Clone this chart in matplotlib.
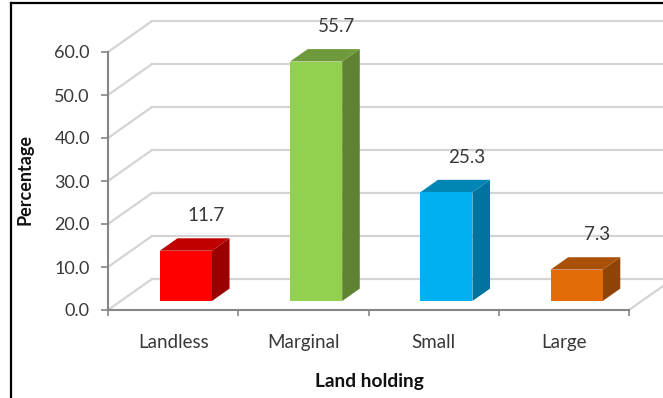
import matplotlib
matplotlib.use("Agg")
import matplotlib.pyplot as plt
from matplotlib.lines import Line2D
from matplotlib.patches import Polygon

plt.rcParams["font.family"] = ["Lato", "DejaVu Sans"]

categories = ["Landless", "Marginal", "Small", "Large"]
values = [11.7, 55.7, 25.3, 7.3]
y_ticks = [0, 10, 20, 30, 40, 50, 60]

front_colors = ["#FF0000", "#92D050", "#00B0F0", "#E36C09"]
top_colors = ["#C00000", "#6F9A3C", "#0085B5", "#AA5107"]
side_colors = ["#9B0000", "#5F8233", "#00739E", "#8F4406"]

W, H = 663, 398
GRID = "#D4D4D4"
AXIS = "#868686"
TEXT = "#383838"

# one unit of depth, in data units
DEPTH_X = 44 / 130.25
DEPTH_Y = 31 / 4.3
BAR_W = 0.4
BAR_FRONT = 0.29
BAR_BACK = 0.69


def pt(x, v, d):
    return (x + d * DEPTH_X, v + d * DEPTH_Y)


fig = plt.figure(figsize=(W / 100, H / 100), dpi=100, facecolor="white")
ax = fig.add_axes([108 / W, 1 - 310 / H, 521 / W, 258 / H])
ax.set_xlim(0, 4)
ax.set_ylim(0, 60)
ax.patch.set_visible(False)

# walls and floor
for v in y_ticks:
    x0, y0 = pt(0, v, 1)
    x1, y1 = pt(4, v, 1)
    ax.plot([0, x0], [v, y0], color=GRID, lw=1.6, clip_on=False, zorder=1)
    ax.plot([x0, x1], [y0, y1], color=GRID, lw=1.6, clip_on=False, zorder=1)
x1, y1 = pt(4, 0, 1)
ax.plot([4, x1], [0, y1], color=GRID, lw=1.6, clip_on=False, zorder=1)

# bars
for i, v in enumerate(values):
    left = i + 0.5 - BAR_W / 2
    right = i + 0.5 + BAR_W / 2
    front = [pt(left, 0, BAR_FRONT), pt(right, 0, BAR_FRONT),
             pt(right, v, BAR_FRONT), pt(left, v, BAR_FRONT)]
    top = [pt(left, v, BAR_FRONT), pt(right, v, BAR_FRONT),
           pt(right, v, BAR_BACK), pt(left, v, BAR_BACK)]
    side = [pt(right, 0, BAR_FRONT), pt(right, 0, BAR_BACK),
            pt(right, v, BAR_BACK), pt(right, v, BAR_FRONT)]
    ax.add_patch(Polygon(side, facecolor=side_colors[i], edgecolor="none", clip_on=False, zorder=3))
    ax.add_patch(Polygon(top, facecolor=top_colors[i], edgecolor="none", clip_on=False, zorder=3))
    ax.add_patch(Polygon(front, facecolor=front_colors[i], edgecolor="none", clip_on=False, zorder=4))
    ax.annotate(f"{v:.1f}", xy=pt(i + 0.5, v, BAR_FRONT), xytext=(20, 35),
                textcoords="offset pixels", ha="center", va="center",
                fontsize=13.5, color=TEXT, annotation_clip=False, zorder=5)

# axes
for s in ["top", "right"]:
    ax.spines[s].set_visible(False)
for s in ["left", "bottom"]:
    ax.spines[s].set_color(AXIS)
    ax.spines[s].set_linewidth(1.5)
    ax.spines[s].set_zorder(6)

ax.set_yticks(y_ticks)
ax.set_yticklabels([f"{v:.1f}" for v in y_ticks], fontsize=13, color=TEXT)
ax.tick_params(axis="y", length=5, width=1.2, color=AXIS, pad=8)

ax.set_xticks(range(5))
ax.set_xticklabels([])
ax.set_xticks([i + 0.5 for i in range(4)], labels=categories, minor=True, fontsize=13.5, color=TEXT)
ax.tick_params(axis="x", which="major", length=4, width=1.2, color=AXIS)
ax.tick_params(axis="x", which="minor", length=0, pad=17)

fig.text(25 / W, 1 - 180 / H, "Percentage", rotation=90, ha="center", va="center",
         fontsize=13, fontweight="bold", color="#111111")
fig.text(369 / W, 1 - 381 / H, "Land holding", ha="center", va="center",
         fontsize=13.8, fontweight="bold", color="#111111")

# frame left in the picture
fig.add_artist(Line2D([11 / W, 11 / W], [0, 1 - 3 / H], color="black", lw=1.6))
fig.add_artist(Line2D([11 / W, 1], [1 - 3 / H, 1 - 3 / H], color="black", lw=1.6))

fig.savefig("out.png", dpi=100)
